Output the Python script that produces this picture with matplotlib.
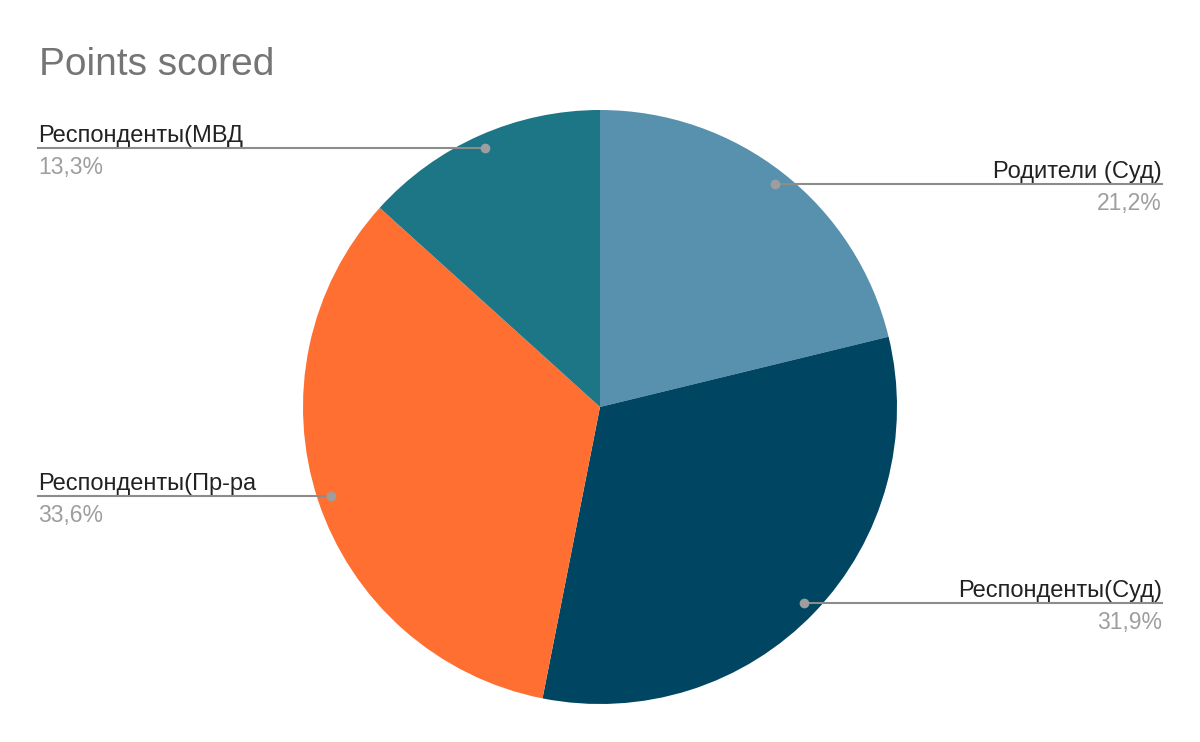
import matplotlib.pyplot as plt
import numpy as np

plt.rcParams['font.family'] = ['Liberation Sans', 'DejaVu Sans']

labels = ["Родители (Суд)", "Респонденты(Суд)", "Респонденты(Пр-ра", "Респонденты(МВД"]
shares = [21.2, 31.9, 33.6, 13.3]
colors = ["#5891ad", "#004561", "#ff6f31", "#1c7685"]

W, H = 1200, 742
fig = plt.figure(figsize=(W / 100, H / 100), dpi=100)
ax = fig.add_axes([0, 0, 1, 1])

cx, cy, r = 600, H - 407, 297
wedges, _ = ax.pie(shares, colors=colors, startangle=90, counterclock=False,
                   center=(cx, cy), radius=r, frame=True,
                   wedgeprops=dict(linewidth=0))
ax.set_xlim(0, W)
ax.set_ylim(0, H)
ax.axis('off')

fig.text(39 / W, 1 - 75 / H, "Points scored", fontsize=28, color="#757575",
         ha='left', va='baseline')

for w, lab, val in zip(wedges, labels, shares):
    mid = np.deg2rad((w.theta1 + w.theta2) / 2)
    dx = cx + 0.953 * r * np.cos(mid)
    dy = cy + 0.953 * r * np.sin(mid)
    if dx > cx:
        x_end, ha = 1162, 'right'
    else:
        x_end, ha = 38, 'left'
    ax.plot([dx, x_end], [dy, dy], color="#8c8c8c", lw=1.5, zorder=3)
    ax.plot(dx, dy, 'o', color="#9e9e9e", ms=7, mec='none', zorder=4)
    ax.text(x_end, dy + 6, lab, fontsize=17, color="#222222", ha=ha, va='baseline')
    ax.text(x_end, dy - 26, f"{val:.1f}%".replace('.', ','), fontsize=16.5,
            color="#9e9e9e", ha=ha, va='baseline')

fig.savefig("out.png", dpi=100, facecolor='white')
